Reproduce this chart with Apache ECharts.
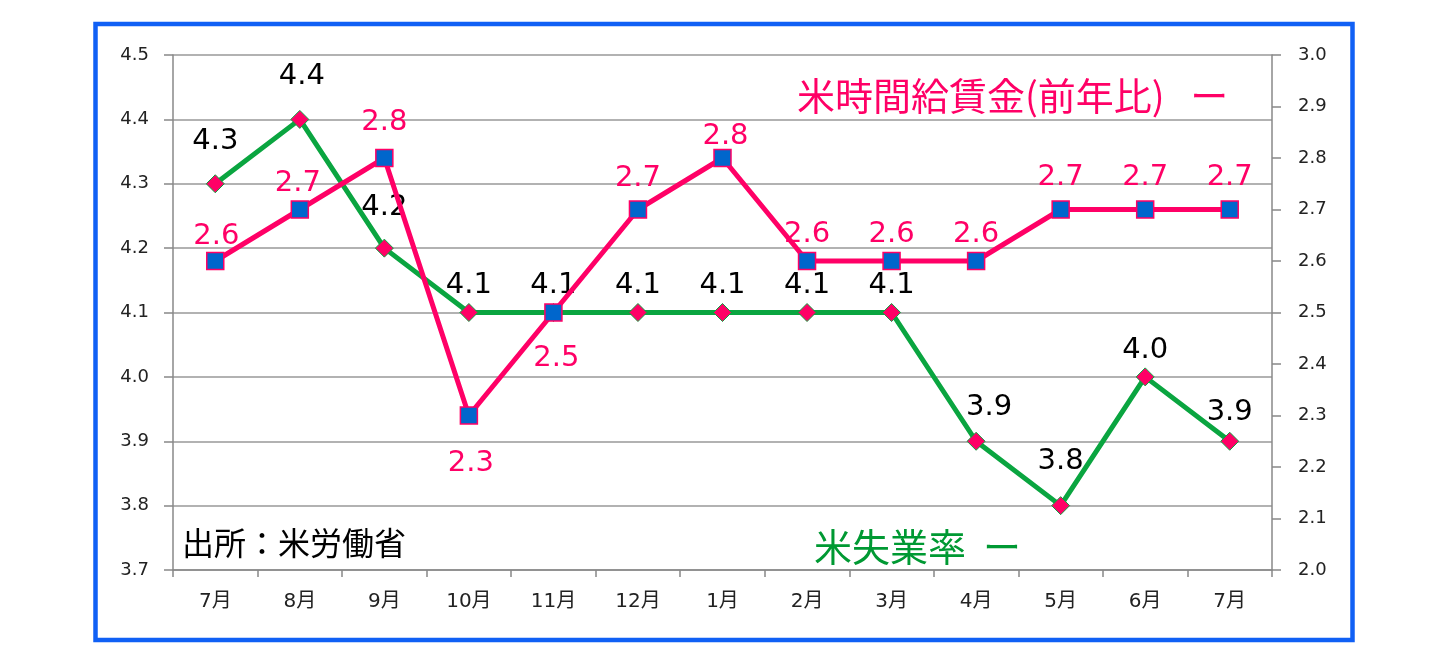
<!DOCTYPE html>
<html>
<head>
<meta charset="utf-8">
<script src="https://cdn.jsdelivr.net/npm/echarts@6/dist/echarts.min.js"></script>
<style>
html,body{margin:0;padding:0;background:#fff;}
#chart{width:1448px;height:671px;}
</style>
</head>
<body>
<div id="chart"></div>
<script>
// ---- data ----
const categories = ['7月','8月','9月','10月','11月','12月','1月','2月','3月','4月','5月','6月','7月'];
const unemploymentRate = [4.3, 4.4, 4.2, 4.1, 4.1, 4.1, 4.1, 4.1, 4.1, 3.9, 3.8, 4.0, 3.9];
const hourlyWageYoY = [2.6, 2.7, 2.8, 2.3, 2.5, 2.7, 2.8, 2.6, 2.6, 2.6, 2.7, 2.7, 2.7];
const leftAxisTicks = [3.7, 3.8, 3.9, 4.0, 4.1, 4.2, 4.3, 4.4, 4.5];
const rightAxisTicks = [2.0, 2.1, 2.2, 2.3, 2.4, 2.5, 2.6, 2.7, 2.8, 2.9, 3.0];
const wageTitle = '米時間給賃金(前年比)   ー';
const unempTitle = '米失業率  ー';
const sourceNote = '出所：米労働省';

// ---- label placement (style only) ----
const unempLabelOffsets = [[0,-42],[2,-43],[0,-41],[0,-27],[0,-27],[0,-27],[0,-27],[0,-27],[0,-27],[13,-34],[0,-44],[0,-26],[0,-29]];
const wageLabelOffsets  = [[1,-25],[-2,-26],[0,-36],[2,48],[3,46],[0,-31],[3,-22],[0,-27],[0,-27],[0,-27],[0,-32],[0,-32],[0,-32]];

const RED = '#FF0066', GREEN = '#0AA540', BLUE = '#0066CC';
const NUMFONT = '"DejaVu Sans", "Noto Sans CJK JP", sans-serif';
const JPFONT = '"Noto Sans CJK JP", sans-serif';

const chart = echarts.init(document.getElementById('chart'), null, {renderer: 'canvas'});

function lbl(offsets, color) {
  return (v, i) => ({
    value: v,
    label: {
      show: true,
      position: 'inside',
      offset: offsets[i],
      color: color,
      fontSize: 29,
      fontFamily: NUMFONT,
      formatter: p => Number(p.value).toFixed(1)
    }
  });
}

const option = {
  backgroundColor: '#fff',
  animation: false,
  grid: {left: 173, right: 176, top: 55, bottom: 101, containLabel: false},
  xAxis: {
    type: 'category',
    data: categories,
    boundaryGap: true,
    axisLine: {show: true, lineStyle: {color: '#888', width: 1.5}},
    axisTick: {show: true, length: 7, alignWithLabel: false, lineStyle: {color: '#888', width: 1.5}},
    axisLabel: {margin: 22, fontSize: 20, color: '#222', fontFamily: NUMFONT},
    splitLine: {show: false}
  },
  yAxis: [
    {
      type: 'value',
      position: 'left',
      min: leftAxisTicks[0],
      max: leftAxisTicks[leftAxisTicks.length - 1],
      interval: 0.1,
      axisLine: {show: true, lineStyle: {color: '#888', width: 1.5}},
      axisTick: {show: true, length: 9, lineStyle: {color: '#888', width: 1.5}},
      axisLabel: {margin: 24, fontSize: 18, color: '#222', fontFamily: NUMFONT, formatter: v => v.toFixed(1)},
      splitLine: {show: true, lineStyle: {color: '#999', width: 1.5}}
    },
    {
      type: 'value',
      position: 'right',
      min: rightAxisTicks[0],
      max: rightAxisTicks[rightAxisTicks.length - 1],
      interval: 0.1,
      axisLine: {show: true, lineStyle: {color: '#888', width: 1.5}},
      axisTick: {show: true, length: 9, lineStyle: {color: '#888', width: 1.5}},
      axisLabel: {margin: 26, fontSize: 18, color: '#222', fontFamily: NUMFONT, formatter: v => v.toFixed(1)},
      splitLine: {show: false}
    }
  ],
  series: [
    {
      name: '米失業率',
      type: 'line',
      yAxisIndex: 0,
      data: unemploymentRate.map(lbl(unempLabelOffsets, '#000')),
      lineStyle: {color: GREEN, width: 5},
      symbol: 'diamond',
      symbolSize: 18,
      itemStyle: {color: RED, borderColor: GREEN, borderWidth: 1},
      z: 2
    },
    {
      name: '米時間給賃金',
      type: 'line',
      yAxisIndex: 1,
      data: hourlyWageYoY.map(lbl(wageLabelOffsets, RED)),
      lineStyle: {color: RED, width: 5},
      symbol: 'rect',
      symbolSize: 17,
      itemStyle: {color: BLUE, borderColor: RED, borderWidth: 1.5},
      z: 3
    }
  ],
  graphic: [
    {
      type: 'rect', silent: true, z: 0,
      shape: {x: 95.5, y: 24, width: 1257, height: 616},
      style: {fill: 'none', stroke: '#1060F5', lineWidth: 4.5}
    },
    {
      type: 'text', z: 10,
      style: {text: wageTitle, x: 797, y: 96, fill: RED, font: '38px ' + JPFONT, textAlign: 'left', textVerticalAlign: 'middle'}
    },
    {
      type: 'text', z: 10,
      style: {text: unempTitle, x: 814, y: 547, fill: '#009933', font: '38px ' + JPFONT, textAlign: 'left', textVerticalAlign: 'middle'}
    },
    {
      type: 'text', z: 10,
      style: {text: sourceNote, x: 182, y: 543, fill: '#000', font: '32px ' + JPFONT, textAlign: 'left', textVerticalAlign: 'middle'}
    }
  ]
};
chart.setOption(option);
</script>
</body>
</html>
